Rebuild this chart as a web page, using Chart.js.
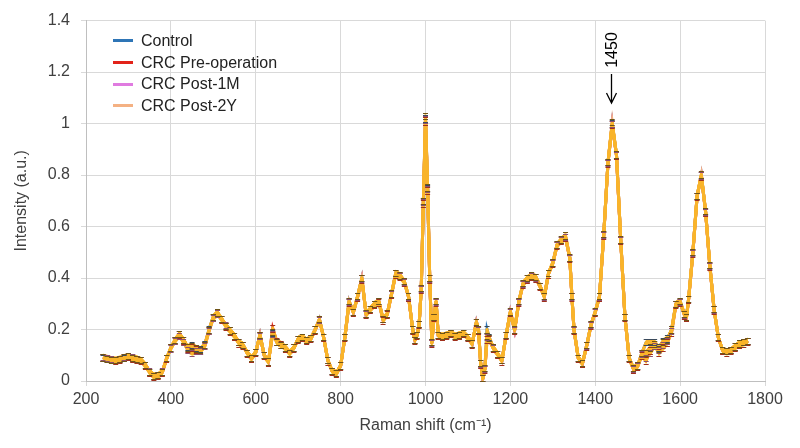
<!DOCTYPE html>
<html>
<head>
<meta charset="utf-8">
<script src="https://cdn.jsdelivr.net/npm/chart.js@4.4.0/dist/chart.umd.min.js"></script>
<style>
  html, body { margin: 0; padding: 0; background: #fff; }
  #wrap { position: relative; width: 800px; height: 448px; }
  #legend { position: absolute; left: 113px; top: 30px; font-family: "Liberation Sans", Arial, sans-serif; font-size: 16px; color: #222; line-height: 21.7px; }
  #legend div { display: flex; align-items: center; white-space: nowrap; }
  #legend .sw { display: inline-block; width: 20px; height: 3px; margin-right: 8px; }
</style>
</head>
<body>
<div id="wrap">
  <canvas id="raman" width="800" height="448"></canvas>
  <div id="legend"></div>
</div>
<script>
// Raman shift (cm-1)
const shift = [
  240, 250, 260, 270, 280, 290, 300, 310, 320, 330,
  340, 350, 360, 370, 380, 390, 400, 410, 420, 430,
  440, 450, 460, 470, 480, 490, 500, 510, 520, 530,
  540, 550, 560, 570, 580, 590, 600, 610, 620, 630,
  640, 650, 660, 670, 680, 690, 700, 710, 720, 730,
  740, 750, 760, 770, 780, 790, 800, 810, 820, 830,
  840, 850, 860, 870, 880, 890, 900, 910, 920, 930,
  940, 950, 960, 970, 975, 980, 985, 990, 995, 1000,
  1005, 1010, 1015, 1020, 1025, 1030, 1040, 1050, 1060, 1070,
  1080, 1090, 1100, 1110, 1120, 1125, 1130, 1135, 1140, 1145,
  1150, 1160, 1170, 1180, 1190, 1200, 1210, 1220, 1230, 1240,
  1250, 1260, 1270, 1280, 1290, 1300, 1310, 1320, 1330, 1340,
  1345, 1350, 1360, 1370, 1380, 1390, 1400, 1410, 1420, 1430,
  1440, 1450, 1460, 1470, 1480, 1490, 1500, 1510, 1520, 1530,
  1540, 1550, 1560, 1570, 1580, 1590, 1600, 1610, 1615, 1620,
  1630, 1640, 1650, 1660, 1670, 1680, 1690, 1700, 1710, 1720,
  1730, 1740, 1750, 1760
];

const control = [
  .090, .086, .082, .080, .084, .090, .096, .090, .086, .080,
  .062, .036, .020, .022, .036, .088, .130, .160, .182, .160,
  .132, .140, .128, .124, .142, .200, .250, .266, .240, .214,
  .196, .176, .150, .140, .110, .090, .112, .180, .100, .076,
  .188, .150, .140, .130, .110, .130, .164, .170, .158, .166,
  .200, .240, .170, .080, .040, .030, .060, .170, .310, .268,
  .330, .400, .262, .280, .300, .310, .240, .262, .340, .420,
  .410, .388, .330, .200, .160, .178, .220, .360, .700, 1.020,
  .750, .400, .150, .250, .310, .180, .176, .180, .186, .176,
  .180, .186, .170, .146, .230, .200, .070, .010, .050, .200,
  .170, .130, .106, .080, .180, .270, .200, .310, .380, .400,
  .410, .404, .370, .330, .420, .460, .530, .550, .560, .480,
  .330, .200, .090, .070, .140, .220, .270, .330, .570, .850,
  1.000, .880, .550, .250, .090, .050, .060, .110, .150, .150,
  .150, .130, .155, .165, .200, .300, .310, .260, .250, .320,
  .500, .720, .800, .660, .450, .280, .170, .120, .115, .120,
  .134, .146, .150, .156
];

const preOp = [
  .092, .088, .083, .081, .085, .091, .095, .089, .085, .079,
  .060, .034, .018, .021, .034, .086, .128, .158, .180, .158,
  .128, .130, .122, .120, .138, .196, .246, .262, .238, .212,
  .194, .174, .148, .138, .108, .088, .110, .178, .098, .074,
  .205, .152, .142, .128, .108, .128, .162, .168, .156, .164,
  .198, .238, .168, .078, .038, .028, .058, .168, .306, .266,
  .326, .396, .258, .278, .296, .306, .236, .258, .336, .416,
  .406, .384, .326, .198, .158, .176, .218, .356, .690, 1.010,
  .740, .396, .146, .246, .306, .176, .172, .178, .184, .174,
  .178, .184, .168, .144, .226, .196, .066, .008, .046, .160,
  .160, .126, .104, .078, .176, .266, .196, .306, .376, .396,
  .406, .400, .366, .326, .416, .456, .526, .546, .556, .476,
  .326, .196, .088, .068, .136, .216, .266, .326, .566, .846,
  .996, .876, .546, .246, .086, .046, .056, .100, .080, .120,
  .140, .110, .130, .150, .190, .296, .306, .256, .246, .316,
  .496, .716, .796, .656, .446, .276, .168, .118, .113, .118,
  .132, .144, .148, .154
];

const post1M = [
  .094, .089, .084, .082, .086, .092, .097, .091, .087, .081,
  .063, .037, .021, .023, .037, .090, .126, .155, .176, .150,
  .120, .110, .115, .118, .135, .194, .244, .262, .240, .216,
  .196, .176, .150, .140, .110, .090, .112, .176, .100, .076,
  .184, .150, .140, .130, .110, .130, .164, .170, .158, .166,
  .200, .236, .170, .080, .040, .030, .060, .170, .306, .268,
  .328, .398, .260, .280, .300, .310, .240, .262, .338, .418,
  .408, .386, .328, .200, .160, .178, .220, .358, .696, 1.016,
  .746, .398, .148, .248, .308, .178, .174, .180, .186, .176,
  .180, .186, .170, .146, .228, .198, .068, .010, .048, .170,
  .166, .128, .106, .080, .178, .268, .198, .308, .378, .398,
  .408, .402, .368, .328, .418, .458, .528, .548, .558, .478,
  .328, .198, .090, .070, .138, .218, .268, .328, .568, .848,
  .998, .878, .548, .248, .088, .048, .058, .105, .090, .110,
  .135, .120, .140, .155, .195, .298, .308, .258, .248, .318,
  .498, .718, .798, .658, .448, .278, .170, .120, .115, .120,
  .134, .146, .150, .156
];

const post2Y = [
  .091, .087, .083, .081, .085, .091, .096, .090, .086, .080,
  .062, .036, .020, .022, .036, .088, .130, .160, .182, .160,
  .130, .136, .126, .122, .140, .198, .250, .266, .240, .214,
  .196, .176, .150, .140, .110, .090, .112, .180, .100, .076,
  .190, .150, .140, .130, .110, .130, .164, .170, .158, .166,
  .200, .240, .170, .080, .040, .030, .060, .170, .310, .268,
  .330, .400, .262, .280, .300, .310, .240, .262, .340, .420,
  .410, .388, .330, .200, .160, .178, .220, .360, .700, 1.030,
  .752, .400, .150, .250, .310, .180, .176, .180, .186, .176,
  .180, .186, .170, .146, .230, .200, .070, .010, .050, .175,
  .168, .130, .106, .080, .180, .270, .200, .310, .380, .400,
  .410, .404, .370, .330, .420, .460, .530, .550, .565, .480,
  .330, .200, .090, .070, .140, .220, .270, .330, .570, .850,
  1.005, .880, .550, .250, .090, .050, .060, .108, .110, .130,
  .145, .125, .150, .160, .200, .300, .310, .260, .250, .320,
  .500, .720, .802, .660, .450, .280, .170, .120, .115, .120,
  .134, .146, .150, .156
];

// standard deviation per group (error bars)
const sdValues = [0.012, 0.014, 0.012, 0.012];

const seriesNames = ['Control', 'CRC Pre-operation', 'CRC Post-1M', 'CRC Post-2Y'];
const seriesValues = [control, preOp, post1M, post2Y];
const lineColors = ['#2e75b6', '#e2231a', '#e07be0', '#f4b183'];
const capColors = ['#3a4a5c', '#a0301c', '#8e4f6e', '#6e5416'];
const barColor = '#f9b42a';

const yTicks = [0, 0.2, 0.4, 0.6, 0.8, 1, 1.2, 1.4];
const peakLabel = '1450';
const peakShift = 1437;

const FONT = '"Liberation Sans", Arial, sans-serif';

// dense error bars merge into a band around each curve, caps drawn on top
const errorBars = {
  id: 'errorBars',
  afterDatasetsDraw(chart) {
    const { ctx, scales: { x, y } } = chart;
    ctx.save();
    chart.data.datasets.forEach((ds, i) => {
      const sd = sdValues[i];
      const pts = ds.data;
      ctx.fillStyle = barColor;
      ctx.beginPath();
      pts.forEach((p, k) => {
        const px = x.getPixelForValue(p.x), py = y.getPixelForValue(p.y + sd);
        if (k === 0) ctx.moveTo(px, py); else ctx.lineTo(px, py);
      });
      for (let k = pts.length - 1; k >= 0; k--) {
        ctx.lineTo(x.getPixelForValue(pts[k].x), y.getPixelForValue(Math.max(0, pts[k].y - sd)));
      }
      ctx.closePath();
      ctx.fill();
      ctx.strokeStyle = barColor;
      ctx.lineWidth = 3;
      ctx.lineJoin = 'round';
      ctx.beginPath();
      pts.forEach((p, k) => {
        const px = x.getPixelForValue(p.x), py = y.getPixelForValue(p.y);
        if (k === 0) ctx.moveTo(px, py); else ctx.lineTo(px, py);
      });
      ctx.stroke();
    });
    chart.data.datasets.forEach((ds, i) => {
      const sd = sdValues[i];
      ctx.strokeStyle = capColors[i];
      ctx.lineWidth = 1;
      ctx.beginPath();
      ds.data.forEach(p => {
        const px = x.getPixelForValue(p.x);
        const top = Math.round(y.getPixelForValue(p.y + sd)) + 0.5;
        const bot = Math.round(y.getPixelForValue(Math.max(0, p.y - sd))) + 0.5;
        ctx.moveTo(px - 2.5, top);
        ctx.lineTo(px + 2.5, top);
        ctx.moveTo(px - 2.5, bot);
        ctx.lineTo(px + 2.5, bot);
      });
      ctx.stroke();
    });
    ctx.restore();
  }
};

const peakNote = {
  id: 'peakNote',
  afterDraw(chart) {
    const { ctx, scales: { x, y } } = chart;
    const px = Math.round(x.getPixelForValue(peakShift)) + 0.5;
    const tip = y.getPixelForValue(1.08);
    ctx.save();
    ctx.strokeStyle = '#000';
    ctx.lineWidth = 1.3;
    ctx.beginPath();
    ctx.moveTo(px, tip - 29);
    ctx.lineTo(px, tip);
    ctx.moveTo(px - 5, tip - 10);
    ctx.lineTo(px, tip);
    ctx.lineTo(px + 5, tip - 10);
    ctx.stroke();
    ctx.translate(px + 1, tip - 53);
    ctx.rotate(-Math.PI / 2);
    ctx.fillStyle = '#000';
    ctx.font = '16px ' + FONT;
    ctx.textAlign = 'center';
    ctx.textBaseline = 'middle';
    ctx.fillText(peakLabel, 0, 0);
    ctx.restore();
  }
};

const datasets = seriesNames.map((name, i) => ({
  label: name,
  data: shift.map((s, j) => ({ x: s, y: seriesValues[i][j] })),
  showLine: true,
  borderColor: lineColors[i],
  backgroundColor: lineColors[i],
  borderWidth: 3,
  pointRadius: 0,
  tension: 0,
  order: seriesNames.length - i
}));

new Chart(document.getElementById('raman'), {
  type: 'scatter',
  data: { datasets },
  options: {
    responsive: false,
    animation: false,
    layout: { padding: { left: 0, right: 35, top: 18, bottom: 0 } },
    plugins: { legend: { display: false }, tooltip: { enabled: false } },
    scales: {
      x: {
        type: 'linear', min: 200, max: 1800,
        afterFit(s) { s.height = 67; },
        ticks: { stepSize: 200, padding: 4, maxRotation: 0, color: '#404040', font: { family: FONT, size: 16 }, callback: v => String(v) },
        grid: { color: '#d9d9d9', tickLength: 5 },
        border: { color: '#bfbfbf' },
        title: { display: true, text: 'Raman shift (cm\u207B\u00B9)', color: '#404040', font: { family: FONT, size: 16 }, padding: { top: 0, bottom: 13 } }
      },
      y: {
        min: 0, max: 1.4,
        afterFit(s) { s.width = 86; },
        afterBuildTicks(s) { s.ticks = yTicks.map(v => ({ value: v })); },
        ticks: { padding: 11, color: '#404040', font: { family: FONT, size: 16 }, callback: v => String(Math.round(v * 10) / 10) },
        grid: { color: '#d9d9d9', tickLength: 5 },
        border: { color: '#bfbfbf' },
        title: { display: true, text: 'Intensity (a.u.)', color: '#404040', font: { family: FONT, size: 16 }, padding: { top: 12, bottom: 0 } }
      }
    }
  },
  plugins: [errorBars, peakNote]
});

const legend = document.getElementById('legend');
seriesNames.forEach((name, i) => {
  const row = document.createElement('div');
  row.innerHTML = '<span class="sw" style="background:' + lineColors[i] + '"></span>' + name;
  legend.appendChild(row);
});
</script>
</body>
</html>
